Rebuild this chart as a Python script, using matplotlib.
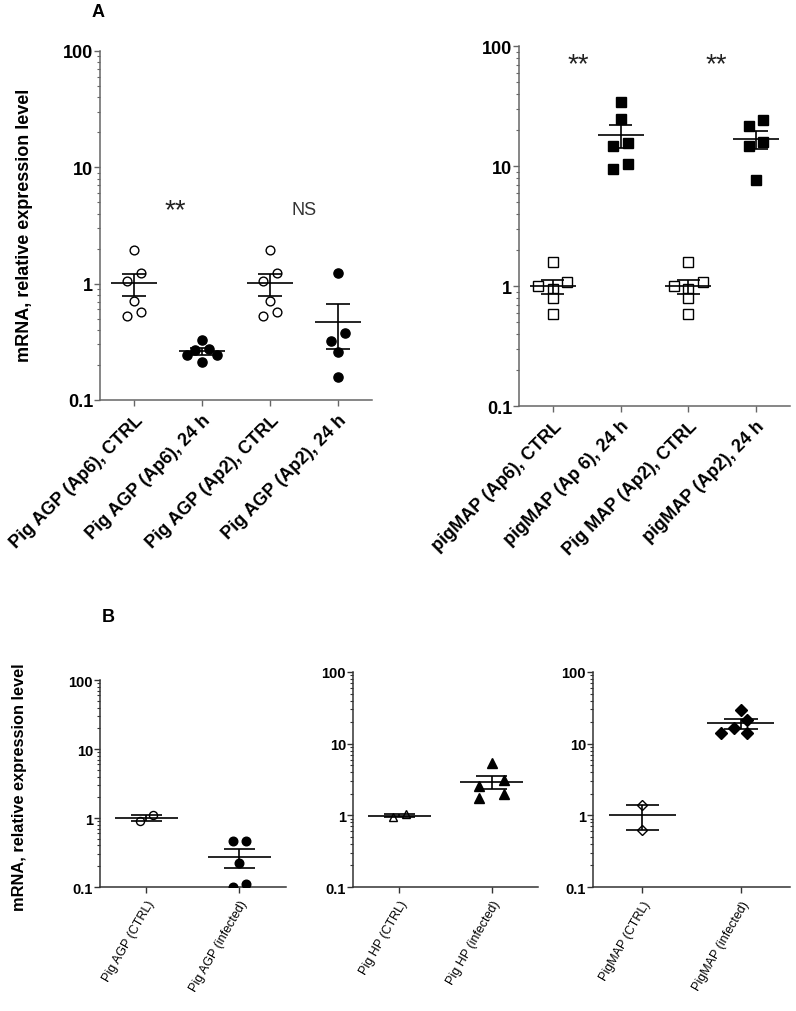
import numpy as np
import matplotlib
matplotlib.use('Agg')
from matplotlib import pyplot as plt
from matplotlib.ticker import LogLocator, NullFormatter

plt.rcParams['font.family'] = ['Liberation Sans', 'DejaVu Sans']

# panel A, acute phase proteins in cells
agp_labels = ['Pig AGP (Ap6), CTRL', 'Pig AGP (Ap6), 24 h',
              'Pig AGP (Ap2), CTRL', 'Pig AGP (Ap2), 24 h']
agp_ap6_ctrl = [1.93, 1.23, 1.05, 0.71, 0.57, 0.53]
agp_ap6_24h = [0.33, 0.273, 0.27, 0.242, 0.242, 0.21]
agp_ap2_ctrl = [1.93, 1.23, 1.05, 0.71, 0.57, 0.53]
agp_ap2_24h = [1.24, 0.374, 0.32, 0.26, 0.159]

map_labels = ['pigMAP (Ap6), CTRL', 'pigMAP (Ap 6), 24 h',
              'Pig MAP (Ap2), CTRL', 'pigMAP (Ap2), 24 h']
map_ap6_ctrl = [1.58, 1.08, 1.0, 0.94, 0.79, 0.59]
map_ap6_24h = [34.3, 24.5, 15.5, 14.6, 10.5, 9.44]
map_ap2_ctrl = [1.58, 1.08, 1.0, 0.94, 0.79, 0.59]
map_ap2_24h = [24.0, 21.5, 16.0, 14.6, 7.6]

# panel B, infected pigs
b_agp_labels = ['Pig AGP (CTRL)', 'Pig AGP (infected)']
b_agp_ctrl = [1.1, 0.9]
b_agp_inf = [0.47, 0.47, 0.22, 0.11, 0.10]

b_hp_labels = ['Pig HP (CTRL)', 'Pig HP (infected)']
b_hp_ctrl = [1.04, 0.95]
b_hp_inf = [5.3, 3.11, 2.6, 2.0, 1.77]

b_map_labels = ['PigMAP (CTRL)', 'PigMAP (infected)']
b_map_ctrl = [1.38, 0.62]
b_map_inf = [29.9, 21.1, 16.7, 14.1, 14.1]

ytick_vals = [0.1, 1, 10, 100]
ytick_text = ['0.1', '1', '10', '100']


def swarm(ax, values, diam, unit):
    # prism-like scatter: points that overlap are spread sideways, in pairs if possible
    values = np.asarray(values, float)
    ypx = ax.transData.transform(np.column_stack([np.zeros(len(values)), values]))[:, 1]
    per_unit = ax.transData.transform((1, 1))[0] - ax.transData.transform((0, 1))[0]
    xs = {}

    def free(x, y, skip=None):
        return all(np.hypot(x - xs[j], y - ypx[j]) >= diam for j in xs if j != skip)

    prev = None
    for i in np.argsort(-values, kind='stable'):
        y = ypx[i]
        x = None
        if free(0, y):
            x = 0.0
        elif prev is not None and xs[prev] == 0 and abs(y - ypx[prev]) < diam:
            for k in range(1, 6):
                a, b = k * unit, -k * unit
                if free(a, ypx[prev], prev) and free(b, y, prev) and \
                        np.hypot(a - b, ypx[prev] - y) >= diam:
                    xs[prev] = a
                    x = b
                    break
        k = 1
        while x is None:
            for c in (-k * unit, k * unit):
                if free(c, y):
                    x = c
                    break
            k += 1
        xs[i] = x
        prev = i
    return np.array([xs[i] for i in range(len(values))]) / per_unit


def setup(ax, labels, spine_col, tick_fs, lab_fs, rot, bold_lab):
    ax.set_yscale('log')
    ax.set_ylim(0.1, 100)
    ax.set_xlim(-0.5, len(labels) - 0.5)
    for s in ['top', 'right']:
        ax.spines[s].set_visible(False)
    for s in ['left', 'bottom']:
        ax.spines[s].set_color(spine_col)
        ax.spines[s].set_linewidth(1.1)
    ax.set_yticks(ytick_vals)
    ax.set_yticklabels(ytick_text, fontsize=tick_fs, fontweight='bold')
    ax.yaxis.set_minor_locator(LogLocator(base=10, subs=np.arange(2, 10)))
    ax.yaxis.set_minor_formatter(NullFormatter())
    ax.tick_params(axis='y', which='major', length=4, width=1.0, color=spine_col, pad=1)
    ax.tick_params(axis='y', which='minor', length=2.2, width=0.8, color=spine_col)
    ax.set_xticks(range(len(labels)))
    ax.set_xticklabels(labels, rotation=rot, ha='right', rotation_mode='anchor',
                       fontsize=lab_fs, fontweight='bold' if bold_lab else 'normal')
    ax.tick_params(axis='x', length=4, width=1.0, color=spine_col, pad=4)


def group(ax, pos, values, marker, filled, ms, diam, unit):
    values = np.asarray(values, float)
    off = swarm(ax, values, diam, unit)
    ax.plot(pos + off, values, linestyle='none', marker=marker, ms=ms,
            mfc='black' if filled else 'white', mec='black', mew=1.0, zorder=3)
    m = values.mean()
    sem = values.std(ddof=1) / np.sqrt(len(values))
    ax.hlines(m, pos - 0.34, pos + 0.34, color='black', lw=1.2, zorder=4)
    ax.vlines(pos, m - sem, m + sem, color='black', lw=1.2, zorder=4)
    ax.hlines([m - sem, m + sem], pos - 0.17, pos + 0.17, color='black', lw=1.2, zorder=4)


fig = plt.figure(figsize=(7.96, 10.12), dpi=100)

ax1 = fig.add_axes([0.1256, 0.6038, 0.3417, 0.3449])
setup(ax1, agp_labels, '#666666', 13, 13, 45, True)
group(ax1, 0, agp_ap6_ctrl, 'o', False, 6.3, 9.0, 7.3)
group(ax1, 1, agp_ap6_24h, 'o', True, 6.6, 9.0, 7.3)
group(ax1, 2, agp_ap2_ctrl, 'o', False, 6.3, 9.0, 7.3)
group(ax1, 3, agp_ap2_24h, 'o', True, 6.6, 9.0, 7.3)
ax1.text(0.6, 4.3, '**', fontsize=20, ha='center', va='center', color='#222222')
ax1.text(2.5, 4.3, 'NS', fontsize=13, ha='center', va='center', color='#333333')

ax2 = fig.add_axes([0.652, 0.5978, 0.3405, 0.3557])
setup(ax2, map_labels, '#666666', 13, 13, 45, True)
group(ax2, 0, map_ap6_ctrl, 's', False, 6.5, 8.8, 14.5)
group(ax2, 1, map_ap6_24h, 's', True, 7.0, 9.5, 7.3)
group(ax2, 2, map_ap2_ctrl, 's', False, 6.5, 8.8, 14.5)
group(ax2, 3, map_ap2_24h, 's', True, 7.0, 9.5, 7.3)
ax2.text(0.37, 70, '**', fontsize=20, ha='center', va='center', color='#222222')
ax2.text(2.41, 70, '**', fontsize=20, ha='center', va='center', color='#222222')

ax3 = fig.add_axes([0.1256, 0.1225, 0.2337, 0.2045])
setup(ax3, b_agp_labels, '#333333', 10.5, 9, 60, False)
group(ax3, 0, b_agp_ctrl, 'o', False, 5.8, 9, 6.3)
group(ax3, 1, b_agp_inf, 'o', True, 6.2, 9, 6.3)

ax4 = fig.add_axes([0.4435, 0.1225, 0.2324, 0.2125])
setup(ax4, b_hp_labels, '#333333', 10.5, 9, 60, False)
group(ax4, 0, b_hp_ctrl, '^', False, 6.0, 9, 6.3)
group(ax4, 1, b_hp_inf, '^', True, 6.5, 9, 12.5)

ax5 = fig.add_axes([0.745, 0.1225, 0.2475, 0.2125])
setup(ax5, b_map_labels, '#333333', 10.5, 9, 60, False)
group(ax5, 0, b_map_ctrl, 'D', False, 5.5, 10, 6.5)
group(ax5, 1, b_map_inf, 'D', True, 6.0, 10, 6.5)

fig.text(0.123, 0.988, 'A', fontsize=13, fontweight='bold', ha='center', va='center')
fig.text(0.136, 0.39, 'B', fontsize=13, fontweight='bold', ha='center', va='center')
fig.text(0.031, 0.777, 'mRNA, relative expression level', rotation=90,
         fontsize=13, fontweight='bold', ha='center', va='center')
fig.text(0.025, 0.222, 'mRNA, relative expression level', rotation=90,
         fontsize=11.8, fontweight='bold', ha='center', va='center')

fig.savefig('out.png', dpi=100)
